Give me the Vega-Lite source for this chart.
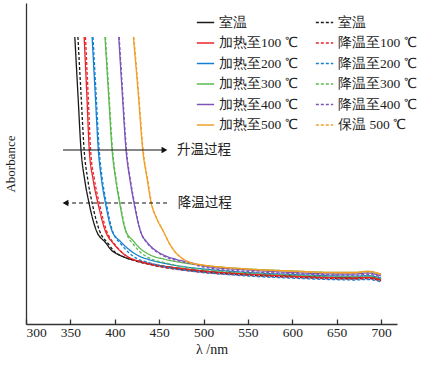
{
  "$schema": "https://vega.github.io/schema/vega-lite/v6.json",
  "width": 371,
  "height": 321,
  "autosize": {"type": "none"},
  "padding": {"left": 26, "top": 3, "right": 24, "bottom": 43},
  "background": "white",
  "config": {
    "view": {"stroke": null},
    "font": "Liberation Serif",
    "axis": {"labelFont": "Liberation Serif", "titleFont": "Liberation Serif", "labelColor": "#222", "titleColor": "#222", "titleFontWeight": "normal", "domainColor": "#333", "tickColor": "#333", "domainWidth": 1.3, "grid": false},
    "legend": {"labelFont": "Liberation Serif", "labelColor": "#222"}
  },
  "datasets": {
    "curves": [
      {"s":"h0","x":355,"y":2.87},{"s":"h0","x":358.5,"y":2.30},{"s":"h0","x":362,"y":1.74},{"s":"h0","x":366,"y":1.45},{"s":"h0","x":371,"y":1.21},{"s":"h0","x":379,"y":0.94},{"s":"h0","x":390,"y":0.81},{"s":"h0","x":396,"y":0.74},{"s":"h0","x":405,"y":0.69},{"s":"h0","x":415,"y":0.655},{"s":"h0","x":430,"y":0.62},{"s":"h0","x":450,"y":0.585},{"s":"h0","x":475,"y":0.555},{"s":"h0","x":500,"y":0.53},{"s":"h0","x":550,"y":0.50},{"s":"h0","x":600,"y":0.48},{"s":"h0","x":650,"y":0.465},{"s":"h0","x":670,"y":0.462},{"s":"h0","x":685,"y":0.468},{"s":"h0","x":700,"y":0.445},
      {"s":"c0","x":358.5,"y":2.87},{"s":"c0","x":362,"y":2.30},{"s":"c0","x":365.5,"y":1.74},{"s":"c0","x":369.5,"y":1.45},{"s":"c0","x":374.5,"y":1.21},{"s":"c0","x":382.5,"y":0.94},{"s":"c0","x":393,"y":0.80},{"s":"c0","x":399,"y":0.73},{"s":"c0","x":409,"y":0.675},{"s":"c0","x":420,"y":0.64},{"s":"c0","x":435,"y":0.605},{"s":"c0","x":450,"y":0.575},{"s":"c0","x":475,"y":0.545},{"s":"c0","x":500,"y":0.52},{"s":"c0","x":550,"y":0.49},{"s":"c0","x":600,"y":0.47},{"s":"c0","x":650,"y":0.455},{"s":"c0","x":670,"y":0.452},{"s":"c0","x":685,"y":0.458},{"s":"c0","x":700,"y":0.435},
      {"s":"h1","x":365.5,"y":2.87},{"s":"h1","x":368.5,"y":2.30},{"s":"h1","x":371.3,"y":1.74},{"s":"h1","x":375.5,"y":1.45},{"s":"h1","x":381,"y":1.21},{"s":"h1","x":389,"y":0.94},{"s":"h1","x":399,"y":0.80},{"s":"h1","x":405,"y":0.74},{"s":"h1","x":415,"y":0.67},{"s":"h1","x":430,"y":0.625},{"s":"h1","x":450,"y":0.585},{"s":"h1","x":475,"y":0.555},{"s":"h1","x":500,"y":0.53},{"s":"h1","x":550,"y":0.50},{"s":"h1","x":600,"y":0.478},{"s":"h1","x":650,"y":0.462},{"s":"h1","x":670,"y":0.46},{"s":"h1","x":685,"y":0.465},{"s":"h1","x":700,"y":0.44},
      {"s":"c1","x":367,"y":2.87},{"s":"c1","x":370,"y":2.30},{"s":"c1","x":372.8,"y":1.74},{"s":"c1","x":377,"y":1.45},{"s":"c1","x":382.5,"y":1.21},{"s":"c1","x":390.5,"y":0.94},{"s":"c1","x":400.5,"y":0.79},{"s":"c1","x":406.5,"y":0.73},{"s":"c1","x":416.5,"y":0.66},{"s":"c1","x":430,"y":0.615},{"s":"c1","x":450,"y":0.575},{"s":"c1","x":475,"y":0.54},{"s":"c1","x":500,"y":0.515},{"s":"c1","x":550,"y":0.485},{"s":"c1","x":600,"y":0.465},{"s":"c1","x":650,"y":0.45},{"s":"c1","x":670,"y":0.448},{"s":"c1","x":685,"y":0.452},{"s":"c1","x":700,"y":0.43},
      {"s":"h2","x":374.5,"y":2.87},{"s":"h2","x":378,"y":2.30},{"s":"h2","x":381.5,"y":1.74},{"s":"h2","x":385,"y":1.45},{"s":"h2","x":389.5,"y":1.21},{"s":"h2","x":396.5,"y":0.94},{"s":"h2","x":407,"y":0.82},{"s":"h2","x":414,"y":0.76},{"s":"h2","x":425,"y":0.69},{"s":"h2","x":440,"y":0.64},{"s":"h2","x":460,"y":0.60},{"s":"h2","x":480,"y":0.57},{"s":"h2","x":500,"y":0.55},{"s":"h2","x":550,"y":0.515},{"s":"h2","x":600,"y":0.495},{"s":"h2","x":650,"y":0.48},{"s":"h2","x":670,"y":0.478},{"s":"h2","x":685,"y":0.483},{"s":"h2","x":700,"y":0.46},
      {"s":"c2","x":375.5,"y":2.87},{"s":"c2","x":379,"y":2.30},{"s":"c2","x":382.5,"y":1.74},{"s":"c2","x":386,"y":1.45},{"s":"c2","x":390.5,"y":1.21},{"s":"c2","x":397.5,"y":0.93},{"s":"c2","x":408,"y":0.79},{"s":"c2","x":415,"y":0.72},{"s":"c2","x":425,"y":0.655},{"s":"c2","x":440,"y":0.61},{"s":"c2","x":460,"y":0.565},{"s":"c2","x":480,"y":0.535},{"s":"c2","x":500,"y":0.515},{"s":"c2","x":550,"y":0.48},{"s":"c2","x":600,"y":0.458},{"s":"c2","x":650,"y":0.443},{"s":"c2","x":670,"y":0.44},{"s":"c2","x":685,"y":0.445},{"s":"c2","x":700,"y":0.422},
      {"s":"h3","x":389,"y":2.87},{"s":"h3","x":393,"y":2.30},{"s":"h3","x":397,"y":1.74},{"s":"h3","x":401,"y":1.45},{"s":"h3","x":405.5,"y":1.21},{"s":"h3","x":412,"y":0.94},{"s":"h3","x":421,"y":0.83},{"s":"h3","x":428,"y":0.76},{"s":"h3","x":440,"y":0.69},{"s":"h3","x":455,"y":0.65},{"s":"h3","x":475,"y":0.615},{"s":"h3","x":500,"y":0.585},{"s":"h3","x":550,"y":0.55},{"s":"h3","x":600,"y":0.53},{"s":"h3","x":650,"y":0.515},{"s":"h3","x":670,"y":0.515},{"s":"h3","x":685,"y":0.525},{"s":"h3","x":700,"y":0.495},
      {"s":"c3","x":389.5,"y":2.87},{"s":"c3","x":393.5,"y":2.30},{"s":"c3","x":397.5,"y":1.74},{"s":"c3","x":401.5,"y":1.45},{"s":"c3","x":406,"y":1.21},{"s":"c3","x":412.5,"y":0.93},{"s":"c3","x":421.5,"y":0.79},{"s":"c3","x":428.5,"y":0.72},{"s":"c3","x":440,"y":0.655},{"s":"c3","x":455,"y":0.615},{"s":"c3","x":475,"y":0.575},{"s":"c3","x":500,"y":0.545},{"s":"c3","x":550,"y":0.51},{"s":"c3","x":600,"y":0.49},{"s":"c3","x":650,"y":0.475},{"s":"c3","x":670,"y":0.473},{"s":"c3","x":685,"y":0.48},{"s":"c3","x":700,"y":0.455},
      {"s":"h4","x":404.5,"y":2.87},{"s":"h4","x":408.5,"y":2.30},{"s":"h4","x":412.7,"y":1.74},{"s":"h4","x":417,"y":1.45},{"s":"h4","x":421.7,"y":1.21},{"s":"h4","x":428.5,"y":0.94},{"s":"h4","x":437,"y":0.81},{"s":"h4","x":444,"y":0.75},{"s":"h4","x":455,"y":0.69},{"s":"h4","x":470,"y":0.645},{"s":"h4","x":485,"y":0.615},{"s":"h4","x":500,"y":0.58},{"s":"h4","x":550,"y":0.54},{"s":"h4","x":600,"y":0.515},{"s":"h4","x":650,"y":0.50},{"s":"h4","x":670,"y":0.50},{"s":"h4","x":685,"y":0.51},{"s":"h4","x":700,"y":0.48},
      {"s":"c4","x":405,"y":2.87},{"s":"c4","x":409,"y":2.30},{"s":"c4","x":413.2,"y":1.74},{"s":"c4","x":417.5,"y":1.45},{"s":"c4","x":422.2,"y":1.21},{"s":"c4","x":429,"y":0.93},{"s":"c4","x":437.5,"y":0.80},{"s":"c4","x":444.5,"y":0.74},{"s":"c4","x":455,"y":0.68},{"s":"c4","x":470,"y":0.635},{"s":"c4","x":485,"y":0.605},{"s":"c4","x":500,"y":0.57},{"s":"c4","x":550,"y":0.525},{"s":"c4","x":600,"y":0.505},{"s":"c4","x":650,"y":0.49},{"s":"c4","x":670,"y":0.488},{"s":"c4","x":685,"y":0.497},{"s":"c4","x":700,"y":0.47},
      {"s":"h5","x":421,"y":2.87},{"s":"h5","x":426.5,"y":2.30},{"s":"h5","x":431.5,"y":1.74},{"s":"h5","x":436.5,"y":1.45},{"s":"h5","x":441,"y":1.21},{"s":"h5","x":447,"y":1.06},{"s":"h5","x":454,"y":0.94},{"s":"h5","x":462,"y":0.80},{"s":"h5","x":468,"y":0.72},{"s":"h5","x":474,"y":0.67},{"s":"h5","x":485,"y":0.615},{"s":"h5","x":500,"y":0.59},{"s":"h5","x":520,"y":0.57},{"s":"h5","x":550,"y":0.55},{"s":"h5","x":600,"y":0.53},{"s":"h5","x":650,"y":0.515},{"s":"h5","x":670,"y":0.515},{"s":"h5","x":685,"y":0.527},{"s":"h5","x":700,"y":0.50},
      {"s":"c5","x":421.5,"y":2.87},{"s":"c5","x":427,"y":2.30},{"s":"c5","x":432,"y":1.74},{"s":"c5","x":437,"y":1.45},{"s":"c5","x":441.5,"y":1.21},{"s":"c5","x":447.5,"y":1.05},{"s":"c5","x":454.5,"y":0.93},{"s":"c5","x":462.5,"y":0.79},{"s":"c5","x":468.5,"y":0.715},{"s":"c5","x":474.5,"y":0.665},{"s":"c5","x":485,"y":0.61},{"s":"c5","x":500,"y":0.585},{"s":"c5","x":520,"y":0.565},{"s":"c5","x":550,"y":0.545},{"s":"c5","x":600,"y":0.525},{"s":"c5","x":650,"y":0.51},{"s":"c5","x":670,"y":0.51},{"s":"c5","x":685,"y":0.522},{"s":"c5","x":700,"y":0.495}
    ],
    "arrows": [
      {"kind":"up","x":341.7,"x2":457,"y":1.74,"head":456,"shape":"triangle-right","label":"升温过程","lx":470},
      {"kind":"down","x":344,"x2":460,"y":1.21,"head":344.5,"shape":"triangle-left","label":"降温过程","lx":471}
    ]
  },
  "layer": [
    {
      "data": {"name": "curves"},
      "mark": {"type": "line", "interpolate": "monotone", "strokeWidth": 1.3},
      "encoding": {
        "x": {"field": "x", "type": "quantitative", "scale": {"domain": [300, 718], "nice": false, "zero": false},
          "axis": {"title": "λ /nm", "values": [300,350,400,450,500,550,600,650,700], "tickSize": -5, "tickWidth": 1.3, "labelPadding": 6, "labelFontSize": 13.5, "titleFontSize": 14, "titlePadding": 4}},
        "y": {"field": "y", "type": "quantitative", "scale": {"domain": [0, 3.21], "nice": false, "zero": false},
          "axis": {"title": "Aborbance", "labels": false, "ticks": false, "titleFontSize": 13, "titlePadding": 9}},
        "color": {"field": "s", "type": "nominal",
          "scale": {"domain": ["h0","h1","h2","h3","h4","h5","c0","c1","c2","c3","c4","c5"],
            "range": ["#1a1a1a","#e8242b","#1580d2","#5bb94f","#7d55b8","#f0a02a","#1a1a1a","#e8242b","#1580d2","#5bb94f","#7d55b8","#f0a02a"]},
          "legend": {"orient": "none", "legendX": 170, "legendY": 10, "columns": 2, "title": null, "padding": 0,
            "symbolType": "stroke", "symbolSize": 300, "symbolStrokeWidth": 1.6, "labelFontSize": 13.5, "labelOffset": 4, "rowPadding": 4.5, "columnPadding": 14, "labelLimit": 200,
            "labelExpr": "datum.value == 'h0' || datum.value == 'c0' ? '室温' : datum.value == 'c5' ? '保温 500 ℃' : (substring(datum.value, 0, 1) == 'h' ? '加热至' : '降温至') + substring(datum.value, 1) + '00 ℃'"}},
        "strokeDash": {"field": "s", "type": "nominal",
          "scale": {"domain": ["h0","h1","h2","h3","h4","h5","c0","c1","c2","c3","c4","c5"],
            "range": [[1,0],[1,0],[1,0],[1,0],[1,0],[1,0],[3,2],[3,2],[3,2],[3,2],[3,2],[3,2]]}}
      }
    },
    {
      "data": {"name": "arrows"},
      "mark": {"type": "rule", "color": "#111", "strokeWidth": 1.2},
      "encoding": {
        "x": {"field": "x", "type": "quantitative"},
        "x2": {"field": "x2"},
        "y": {"field": "y", "type": "quantitative"},
        "strokeDash": {"condition": {"test": "datum.kind == 'down'", "value": [4, 3]}, "value": [1, 0]}
      }
    },
    {
      "data": {"name": "arrows"},
      "mark": {"type": "point", "filled": true, "color": "#111", "size": 45, "opacity": 1},
      "encoding": {
        "x": {"field": "head", "type": "quantitative"},
        "y": {"field": "y", "type": "quantitative"},
        "shape": {"field": "shape", "type": "nominal", "scale": {"domain": ["triangle-right","triangle-left"], "range": ["triangle-right","triangle-left"]}, "legend": null}
      }
    },
    {
      "data": {"name": "arrows"},
      "mark": {"type": "text", "align": "left", "baseline": "middle", "fontSize": 13.5, "color": "#222", "font": "Noto Sans CJK SC"},
      "encoding": {
        "x": {"field": "lx", "type": "quantitative"},
        "y": {"field": "y", "type": "quantitative"},
        "text": {"field": "label"}
      }
    }
  ]
}
